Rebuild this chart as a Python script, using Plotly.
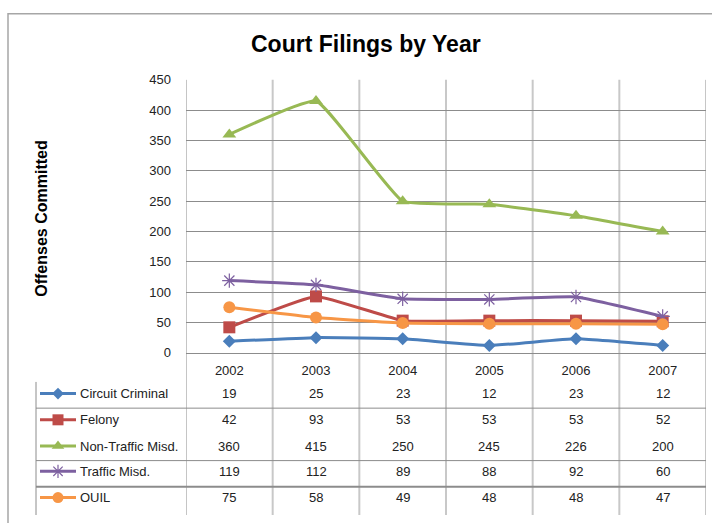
import plotly.graph_objects as go

# ---------------- data ----------------
years = ["2002", "2003", "2004", "2005", "2006", "2007"]
series_names = ["Circuit Criminal", "Felony", "Non-Traffic Misd.", "Traffic Misd.", "OUIL"]
circuit_criminal = [19, 25, 23, 12, 23, 12]
felony = [42, 93, 53, 53, 53, 52]
non_traffic = [360, 415, 250, 245, 226, 200]
traffic = [119, 112, 89, 88, 92, 60]
ouil = [75, 58, 49, 48, 48, 47]
y_tick_values = [0, 50, 100, 150, 200, 250, 300, 350, 400, 450]
title_text = "Court Filings by Year"
y_title = "Offenses Committed"

series_values = [circuit_criminal, felony, non_traffic, traffic, ouil]

# ---------------- styles ----------------
colors = ["#4A7EBB", "#BE4B48", "#98B954", "#7D60A0", "#F79646"]
symbols = ["diamond", "square", "triangle-up", "asterisk-open", "circle"]
msizes = [10, 12, 12, 12, 12]
FONT = "Liberation Sans, Arial, sans-serif"

W, H = 712, 523
def px(x):
    return x / W
def py(y):
    return 1 - y / H

plot_left, plot_right, plot_top, plot_bottom = 186, 706, 75, 356
row_y = [398, 425, 452, 478, 505]

fig = go.Figure()
idx = list(range(len(years)))

for name, vals, c, s, ms in zip(series_names, series_values, colors, symbols, msizes):
    mk = dict(symbol=s, size=ms, color=c)
    if s.endswith("open"):
        mk["line"] = dict(color=c, width=1.2)
    fig.add_trace(go.Scatter(
        x=idx, y=vals, name=name, mode="lines+markers",
        line=dict(color=c, width=3, shape="spline", smoothing=0.35),
        marker=mk, showlegend=False, cliponaxis=False,
        xaxis="x", yaxis="y"))

# legend keys inside the data table (pixel overlay axis)
for name, c, s, ms, ry in zip(series_names, colors, symbols, msizes, row_y):
    fig.add_trace(go.Scatter(x=[40, 76], y=[ry, ry], mode="lines",
                             line=dict(color=c, width=3), showlegend=False,
                             hoverinfo="skip", xaxis="x2", yaxis="y2"))
    mk = dict(symbol=s, size=ms - 1, color=c)
    if s.endswith("open"):
        mk["line"] = dict(color=c, width=1.2)
    fig.add_trace(go.Scatter(x=[58], y=[ry], mode="markers", marker=mk,
                             showlegend=False, hoverinfo="skip",
                             xaxis="x2", yaxis="y2"))

shapes = []
# outer chart frame
shapes.append(dict(type="rect", xref="paper", yref="paper",
                   x0=px(8), x1=px(730), y0=py(540), y1=py(7),
                   line=dict(color="#A6A6A6", width=1.5), layer="below"))
# vertical grid / table column lines
for i in range(len(years) + 1):
    x = i - 0.5
    edge = i == 0 or i == len(years)
    shapes.append(dict(type="line", xref="x", yref="paper",
                       x0=x, x1=x, y0=py(523), y1=py(plot_top),
                       line=dict(color="#8C8C8C" if edge else "#C8C8C8",
                                 width=1 if edge else 2), layer="below"))
# table left border
shapes.append(dict(type="line", xref="paper", yref="paper",
                   x0=px(36), x1=px(36), y0=py(386), y1=py(523),
                   line=dict(color="#8C8C8C", width=1)))
# row separators
for yy, w in [(413, 1), (467, 1), (494, 2)]:
    shapes.append(dict(type="line", xref="paper", yref="paper",
                       x0=px(36), x1=px(plot_right), y0=py(yy), y1=py(yy),
                       line=dict(color="#8C8C8C", width=w)))

annotations = []
annotations.append(dict(text="<b>" + title_text + "</b>", xref="paper", yref="paper",
                        x=px(366), y=py(38), xanchor="center", yanchor="middle",
                        showarrow=False,
                        font=dict(family=FONT, size=23, color="#000000")))
annotations.append(dict(text="<b>" + y_title + "</b>", xref="paper", yref="paper",
                        x=px(42), y=py(218), xanchor="center", yanchor="middle",
                        showarrow=False, textangle=-90,
                        font=dict(family=FONT, size=16, color="#000000")))
for name, vals, ry in zip(series_names, series_values, row_y):
    annotations.append(dict(text=name, xref="paper", yref="paper",
                            x=px(78), y=py(ry), xanchor="left", yanchor="middle",
                            showarrow=False,
                            font=dict(family=FONT, size=13, color="#222222")))
    for i, v in enumerate(vals):
        annotations.append(dict(text=str(v), xref="x", yref="paper",
                                x=i, y=py(ry), xanchor="center", yanchor="middle",
                                showarrow=False,
                                font=dict(family=FONT, size=13, color="#222222")))

fig.update_layout(
    width=W, height=H,
    margin=dict(l=0, r=0, t=0, b=0),
    paper_bgcolor="white", plot_bgcolor="rgba(0,0,0,0)",
    font=dict(family=FONT, size=13, color="#222222"),
    xaxis=dict(domain=[px(plot_left), px(plot_right)], range=[-0.5, 5.5],
               tickvals=idx, ticktext=years, showgrid=False, zeroline=False,
               showline=True, linecolor="#8C8C8C", linewidth=1,
               ticks="", ticklabelstandoff=6, anchor="y",
               tickfont=dict(family=FONT, size=13, color="#222222")),
    yaxis=dict(domain=[py(plot_bottom), py(plot_top)], range=[0, 450],
               tickvals=y_tick_values, showgrid=True, gridcolor="#8C8C8C",
               gridwidth=1, zeroline=False, showline=False, ticks="",
               ticklabelstandoff=14, anchor="x",
               tickfont=dict(family=FONT, size=13, color="#222222")),
    xaxis2=dict(domain=[0, 1], range=[0, W], visible=False, anchor="y2"),
    yaxis2=dict(domain=[0, 1], range=[H, 0], visible=False, anchor="x2"),
    shapes=shapes, annotations=annotations,
)

fig.write_html("out.html", config={"displayModeBar": False},
               post_script="document.body.style.margin='0';")
